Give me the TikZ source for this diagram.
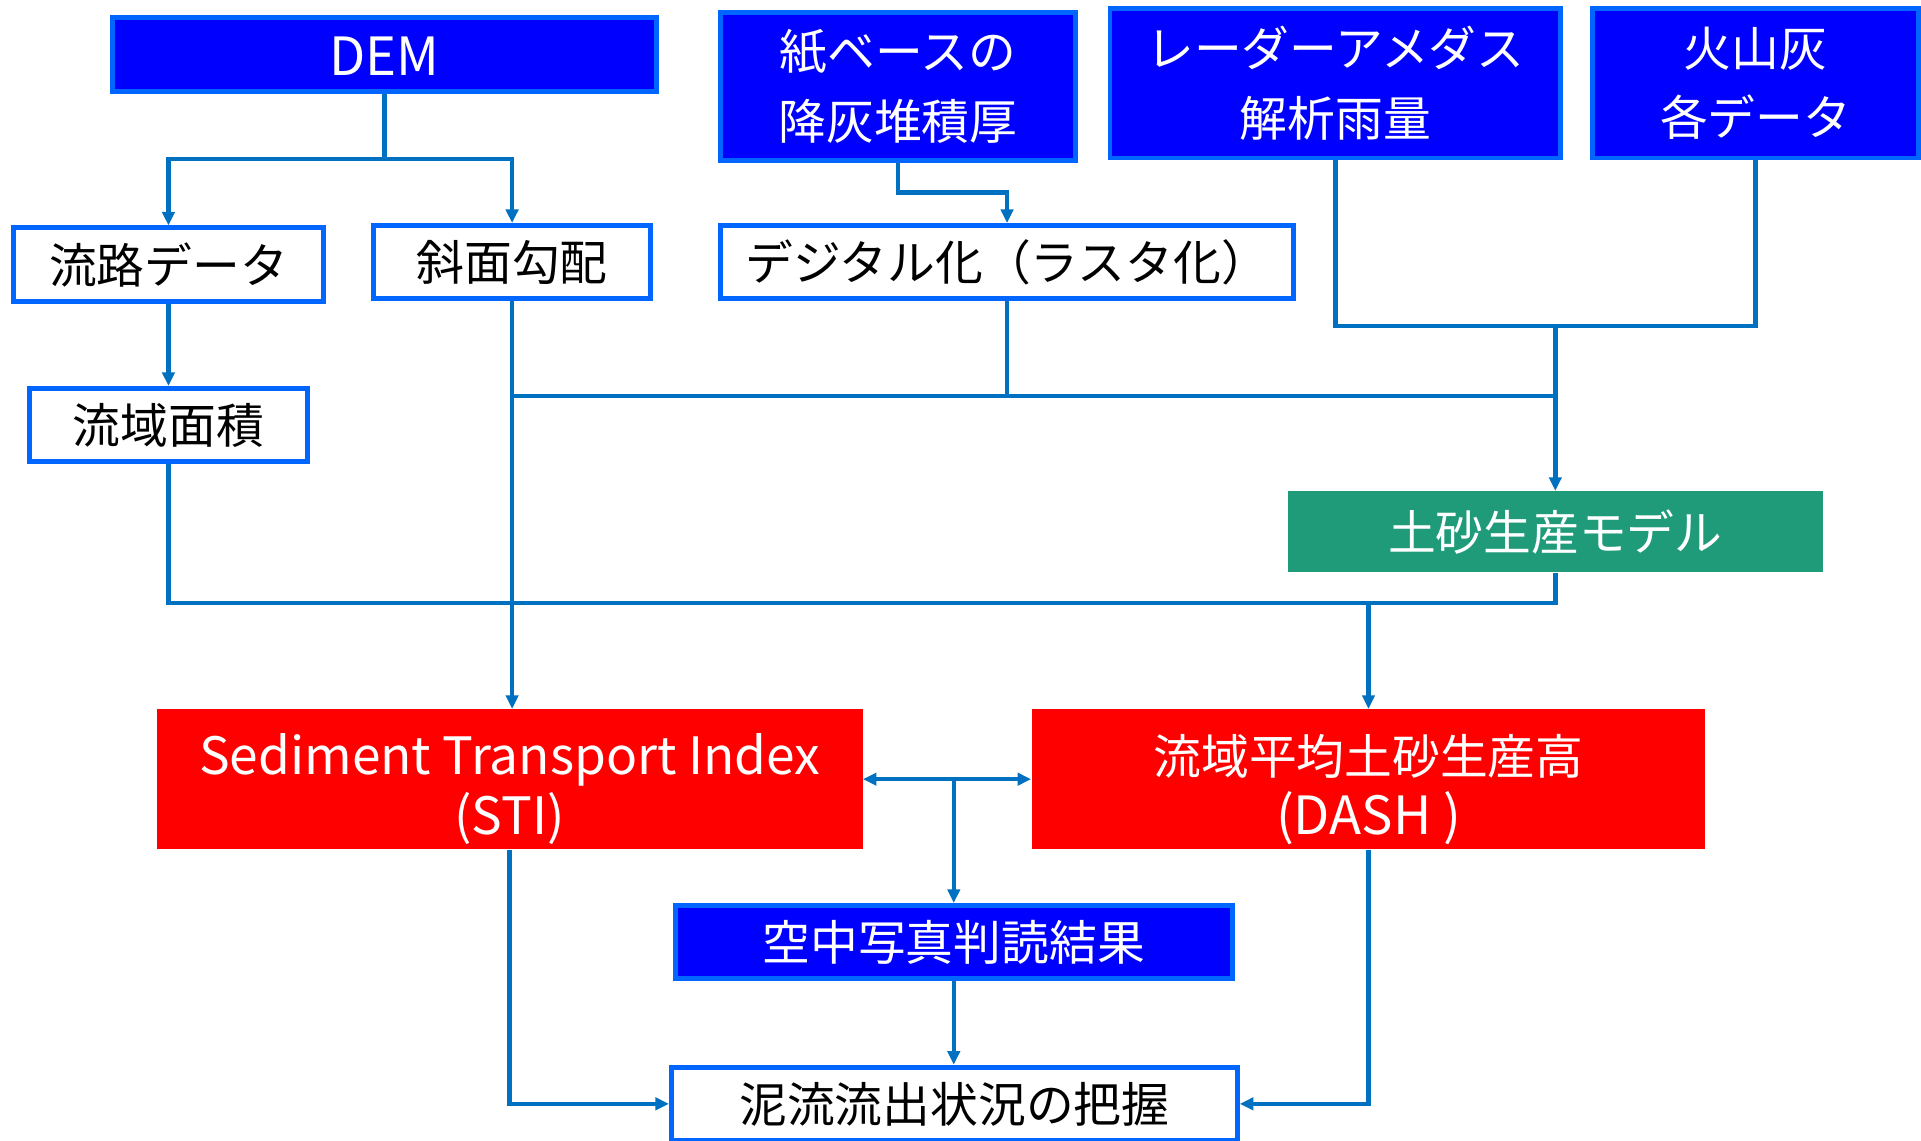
\documentclass[tikz,border=0pt]{standalone}
\usepackage{fontspec}
\setmainfont{Noto Sans CJK JP}
\usetikzlibrary{arrows.meta}
\definecolor{boxblue}{HTML}{0000FF}
\definecolor{edgeblue}{HTML}{0066FF}
\definecolor{linkblue}{HTML}{0070C0}
\definecolor{modelgreen}{HTML}{1F9B7A}
\definecolor{redfill}{HTML}{FF0000}
\newcommand{\latintext}[2][21.5]{{\fontsize{#1}{24}\selectfont #2}}
\newcommand{\lowerby}[2]{\raisebox{0pt}[\dimexpr\height+#1\relax][\dimexpr\depth-#1\relax]{#2}}
\begin{document}
\begin{tikzpicture}[x=0.5pt,y=-0.5pt,
  inputbox/.style={draw=edgeblue, line width=2pt, fill=boxblue, text=white, align=center, inner sep=0pt, font=\fontsize{19.5}{28.5}\selectfont},
  whitebox/.style={draw=edgeblue, line width=2pt, fill=white, text=black, align=center, inner sep=0pt, font=\fontsize{19.5}{24}\selectfont},
  resultbox/.style={fill=redfill, text=white, align=center, inner sep=0pt, font=\fontsize{19.5}{24}\selectfont},
  modelbox/.style={fill=modelgreen, text=white, align=center, inner sep=0pt, font=\fontsize{19.5}{24}\selectfont},
  conn/.style={draw=linkblue, line width=1.8pt},
  arr/.style={conn, -{Triangle[length=5.5pt,width=5pt]}},
  darr/.style={conn, {Triangle[length=5.5pt,width=5pt]}-{Triangle[length=5.5pt,width=5pt]}}
]
\fill[white] (0,0) rectangle (1568,931);
\useasboundingbox (0,0) rectangle (1568,931);

% input boxes
\node[inputbox, minimum width=222pt, minimum height=30.5pt] (dem) at (314,44.5) {\lowerby{1pt}{\latintext{DEM}}};
\node[inputbox, minimum width=145pt, minimum height=60.5pt] (kami) at (733,70.5) {紙ベースの\\降灰堆積厚};
\node[inputbox, minimum width=184pt, minimum height=61pt] (radar) at (1090,68) {レーダーアメダス\\解析雨量};
\node[inputbox, minimum width=133pt, minimum height=61pt] (kazan) at (1433,68) {火山灰\\各データ};

% intermediate white boxes
\node[whitebox, minimum width=126.5pt, minimum height=30pt] (ryuro) at (137.5,216) {流路データ};
\node[whitebox, minimum width=113pt, minimum height=30pt] (shamen) at (418,214) {斜面勾配};
\node[whitebox, minimum width=234pt, minimum height=30pt] (digi) at (822,214) {デジタル化（ラスタ化）};
\node[whitebox, minimum width=113.5pt, minimum height=30pt] (ryuiki) at (137.5,347) {流域面積};

% model
\node[modelbox, minimum width=218.5pt, minimum height=33pt] (dosha) at (1269.5,434) {土砂生産モデル};

% results
\node[resultbox, minimum width=288pt, minimum height=57pt] (sti) at (416,636)
  {\lowerby{5.5pt}{\begin{tabular}{@{}c@{}}\latintext[21]{Sediment Transport Index}\\\latintext[21]{(STI)}\end{tabular}}};
\node[resultbox, minimum width=275pt, minimum height=57pt] (dash) at (1117,636)
  {\lowerby{5.5pt}{\begin{tabular}{@{}c@{}}流域平均土砂生産高\\\latintext{(DASH )}\end{tabular}}};
\node[inputbox, minimum width=227.5pt, minimum height=30pt] (kuchu) at (778.5,769) {空中写真判読結果};
\node[whitebox, minimum width=231pt, minimum height=30pt] (deiryu) at (779,901) {泥流流出状況の把握};

% junction coordinates
\coordinate (j1) at (314,130);
\coordinate (h1) at (1269.5,323);
\coordinate (h2) at (1269.5,266);
\coordinate (h3) at (0,492);

% DEM branches
\draw[conn] (dem.south) -- (j1);
\draw[arr] (j1) -| (ryuro.north);
\draw[arr] (j1) -| (shamen.north);

% paper -> digitize
\draw[arr] (kami.south) -- ++(0,24) -| (digi.north);

% flow path -> basin area
\draw[arr] (ryuro.south) -- (ryuiki.north);

% slope -> STI
\draw[arr] (shamen.south) -- (shamen.south |- sti.north);

% line at y=323
\draw[conn] (shamen.south |- h1) -- (h1);
\draw[conn] (digi.south) -- (digi.south |- h1);

% radar + volcanic ash
\draw[conn] (radar.south) -- (radar.south |- h2) -| (kazan.south);
\draw[arr] (h2) -- (dosha.north);

% basin area + model -> DASH
\draw[conn] (ryuiki.south) |- (dosha.south |- h3) -- (dosha.south);
\draw[arr] (dash.north |- h3) -- (dash.north);

% STI <-> DASH, -> aerial photo
\draw[darr] (sti.east) -- (dash.west);
\draw[arr] (sti.east -| kuchu.north) -- (kuchu.north);

% aerial -> result
\draw[arr] (kuchu.south) -- (kuchu.south |- deiryu.north);

% STI, DASH -> result
\draw[arr] (sti.south) |- (deiryu.west);
\draw[arr] (dash.south) |- (deiryu.east);
\end{tikzpicture}
\end{document}
